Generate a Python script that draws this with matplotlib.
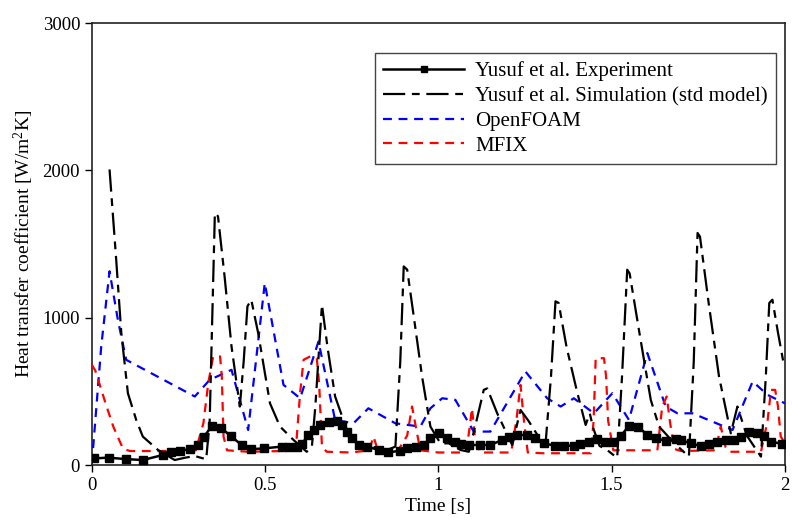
import matplotlib
matplotlib.use("Agg")
import matplotlib.pyplot as plt

plt.rcParams['font.family'] = ['Liberation Serif', 'DejaVu Serif']
plt.rcParams['mathtext.fontset'] = 'custom'
plt.rcParams['mathtext.rm'] = 'Liberation Serif'
plt.rcParams['mathtext.default'] = 'rm'

# Yusuf et al. Experiment
exp_t = [0.006, 0.048, 0.099, 0.147, 0.205, 0.229, 0.253, 0.282, 0.306, 0.324, 0.347, 0.374,
         0.401, 0.432, 0.458, 0.497, 0.548, 0.570, 0.592, 0.606, 0.625, 0.640, 0.659, 0.683,
         0.707, 0.722, 0.736, 0.751, 0.770, 0.794, 0.828, 0.856, 0.890, 0.910, 0.934, 0.958,
         0.977, 1.001, 1.025, 1.049, 1.064, 1.088, 1.121, 1.150, 1.184, 1.203, 1.227, 1.256,
         1.280, 1.304, 1.338, 1.362, 1.391, 1.410, 1.434, 1.459, 1.480, 1.505, 1.526, 1.550,
         1.576, 1.603, 1.627, 1.656, 1.685, 1.699, 1.728, 1.757, 1.781, 1.805, 1.829, 1.853,
         1.873, 1.897, 1.921, 1.940, 1.960, 1.993]
exp_h = [45, 50, 40, 34, 68, 88, 97, 107, 136, 193, 268, 249,
         197, 136, 107, 113, 125, 125, 125, 143, 204, 238, 272, 295,
         301, 272, 227, 181, 136, 125, 102, 86, 97, 113, 125, 136,
         181, 215, 181, 159, 143, 136, 136, 136, 170, 193, 204, 204,
         181, 147, 131, 131, 131, 143, 159, 175, 155, 159, 197, 265,
         261, 204, 181, 165, 175, 170, 147, 129, 143, 159, 170, 170,
         193, 222, 215, 197, 159, 143]

# Yusuf et al. Simulation (std model)
sim_t = [0.051, 0.070, 0.085, 0.104, 0.128, 0.147, 0.191, 0.239, 0.270, 0.297, 0.330, 0.340,
         0.355, 0.364, 0.383, 0.403, 0.427, 0.438, 0.449, 0.460, 0.480, 0.514, 0.543, 0.582,
         0.620, 0.635, 0.645, 0.664, 0.680, 0.702, 0.736, 0.765, 0.852, 0.876, 0.890, 0.900,
         0.910, 0.929, 0.953, 0.977, 1.006, 1.030, 1.064, 1.088, 1.110, 1.131, 1.141, 1.170,
         1.213, 1.237, 1.260, 1.295, 1.309, 1.325, 1.338, 1.347, 1.370, 1.400, 1.425, 1.437,
         1.447, 1.465, 1.487, 1.516, 1.530, 1.545, 1.552, 1.580, 1.613, 1.637, 1.680, 1.723,
         1.737, 1.748, 1.755, 1.780, 1.810, 1.844, 1.863, 1.890, 1.931, 1.945, 1.955, 1.964,
         1.980, 1.998]
sim_h = [2006, 1400, 895, 487, 306, 193, 102, 34, 50, 61, 39, 300,
         1711, 1688, 1280, 805, 397, 700, 1077, 1122, 895, 419, 261, 170,
         90, 125, 400, 1088, 800, 465, 238, 147, 102, 125, 700, 1348,
         1326, 1008, 600, 261, 147, 147, 102, 90, 300, 510, 520, 350,
         136, 374, 300, 170, 136, 600, 1111, 1100, 800, 500, 272, 350,
         250, 130, 102, 48, 600, 1326, 1300, 900, 442, 261, 150, 57,
         700, 1575, 1550, 1100, 600, 215, 397, 200, 57, 600, 1100, 1122,
         900, 668]

# OpenFOAM
of_t = [0.0, 0.027, 0.051, 0.075, 0.099, 0.297, 0.340, 0.403, 0.451, 0.499, 0.553, 0.601,
        0.654, 0.702, 0.755, 0.798, 0.876, 0.948, 0.977, 1.011, 1.049, 1.102, 1.150, 1.251,
        1.314, 1.353, 1.391, 1.449, 1.502, 1.550, 1.603, 1.656, 1.690, 1.733, 1.849, 1.907,
        1.950, 2.0]
of_h = [10, 805, 1315, 986, 714, 465, 578, 646, 238, 1235, 544, 453,
        838, 306, 283, 385, 283, 261, 385, 453, 442, 227, 227, 635,
        453, 397, 453, 351, 487, 306, 760, 397, 351, 351, 238, 567,
        476, 419]

# MFIX
mf_t = [0.0, 0.010, 0.042, 0.062, 0.090, 0.110, 0.200, 0.300, 0.322, 0.336, 0.350, 0.370,
        0.375, 0.380, 0.390, 0.450, 0.550, 0.590, 0.601, 0.611, 0.630, 0.649, 0.656, 0.664,
        0.678, 0.750, 0.800, 0.813, 0.825, 0.880, 0.910, 0.924, 0.938, 0.948, 1.000, 1.080,
        1.090, 1.097, 1.105, 1.120, 1.210, 1.225, 1.237, 1.247, 1.258, 1.300, 1.440, 1.448,
        1.454, 1.478, 1.484, 1.490, 1.505, 1.632, 1.646, 1.659, 1.668, 1.680, 1.700, 1.800,
        1.815, 1.829, 1.840, 1.931, 1.950, 1.960, 1.972, 1.980, 1.988, 2.0]
mf_h = [680, 640, 400, 260, 110, 95, 95, 100, 286, 557, 737, 737,
        600, 193, 100, 90, 95, 150, 490, 714, 737, 727, 550, 125,
        90, 85, 100, 193, 100, 85, 200, 397, 220, 100, 85, 85,
        250, 385, 200, 85, 85, 300, 544, 300, 85, 80, 80, 300,
        725, 725, 600, 300, 100, 100, 397, 465, 300, 110, 95, 100,
        261, 120, 90, 90, 300, 510, 510, 400, 193, 150]

x_ticks = [0, 0.5, 1, 1.5, 2]
x_tick_labels = ["0", "0.5", "1", "1.5", "2"]
y_ticks = [0, 1000, 2000, 3000]

fig = plt.figure(figsize=(7.92, 5.30), dpi=100)
ax = fig.add_axes([0.116, 0.1226, 0.875, 0.834])

ax.plot(exp_t, exp_h, color='black', lw=1.8, marker='s', markersize=6.2,
        label='Yusuf et al. Experiment', zorder=5)
ax.plot(sim_t, sim_h, color='black', lw=1.6, dashes=(10, 3, 3.5, 3),
        label='Yusuf et al. Simulation (std model)', zorder=4)
ax.plot(of_t, of_h, color='#0000ff', lw=1.6, dashes=(4, 3), label='OpenFOAM', zorder=3)
ax.plot(mf_t, mf_h, color='#ff0000', lw=1.6, dashes=(4, 3), label='MFIX', zorder=3)

ax.set_xlim(0, 2)
ax.set_ylim(0, 3000)
ax.set_xticks(x_ticks)
ax.set_xticklabels(x_tick_labels)
ax.set_yticks(y_ticks)
ax.tick_params(direction='out', length=5, width=1, labelsize=13.5, colors='black')
for s in ax.spines.values():
    s.set_linewidth(1.2)
    s.set_color('#222222')

ax.set_xlabel('Time [s]', fontsize=14, labelpad=3)
ax.set_ylabel('Heat transfer coefficient [W/m$^2$K]', fontsize=14, labelpad=5)

leg = ax.legend(loc='upper right', bbox_to_anchor=(0.987, 0.932), borderaxespad=0,
                fontsize=15, handlelength=3.9, frameon=True, fancybox=False, framealpha=1,
                edgecolor='#444444', borderpad=0.4, labelspacing=0.25, handletextpad=0.5,
                markerscale=0.8)
leg.get_frame().set_linewidth(1.0)

fig.savefig('out.png', dpi=100)
